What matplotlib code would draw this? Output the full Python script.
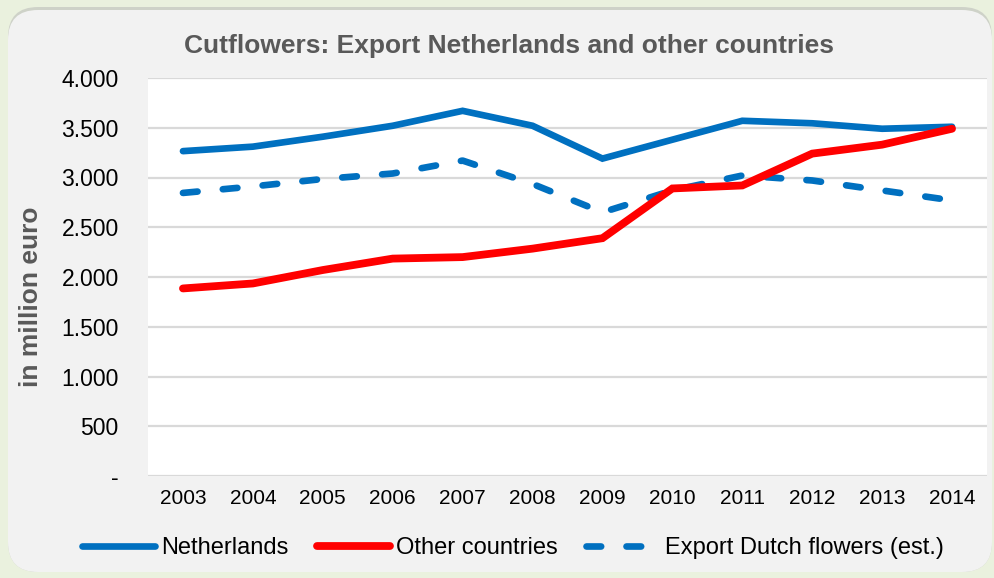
import numpy as np
import matplotlib.pyplot as plt
from matplotlib.patches import FancyBboxPatch

plt.rcParams['font.family'] = ['Liberation Sans', 'DejaVu Sans']

# data (million euro)
years = ["2003", "2004", "2005", "2006", "2007", "2008",
         "2009", "2010", "2011", "2012", "2013", "2014"]
netherlands = [3265, 3310, 3410, 3520, 3670, 3520, 3190, 3380, 3570, 3545, 3490, 3510]
other_countries = [1885, 1935, 2070, 2185, 2200, 2285, 2390, 2890, 2920, 3240, 3330, 3490]
export_dutch_est = [2845, 2910, 2985, 3040, 3170, 2935, 2650, 2870, 3020, 2970, 2870, 2770]
y_ticks = [0, 500, 1000, 1500, 2000, 2500, 3000, 3500, 4000]
y_tick_labels = ["-", "500", "1.000", "1.500", "2.000", "2.500", "3.000", "3.500", "4.000"]

BLUE = "#0070C0"
RED = "#FF0000"
GRID = "#D9D9D9"
PANEL = "#F2F2F2"
OUTER = "#EAF1DE"
TEXT_GRAY = "#595959"

W, H = 995, 578
fig = plt.figure(figsize=(W / 100, H / 100), dpi=100)
fig.patch.set_facecolor(OUTER)

# rounded chart panel with a soft shadow along the top
shadow = FancyBboxPatch((0.08, 0.06), 9.84, 5.65,
                        boxstyle="round,pad=0,rounding_size=0.3",
                        transform=fig.dpi_scale_trans, facecolor="#B4B4B4",
                        edgecolor="none", alpha=0.5, zorder=-3)
panel = FancyBboxPatch((0.08, 0.06), 9.84, 5.62,
                       boxstyle="round,pad=0,rounding_size=0.3",
                       transform=fig.dpi_scale_trans, facecolor=PANEL,
                       edgecolor="none", zorder=-2)
fig.patches.extend([shadow, panel])

left, right, top, bottom = 148, 987, 78, 476
ax = fig.add_axes([left / W, 1 - bottom / H, (right - left) / W, (bottom - top) / H])
ax.set_facecolor("white")

x = np.arange(len(years))
ax.plot(x, export_dutch_est, color=BLUE, lw=4.8, dashes=(2.2, 3.8),
        dash_capstyle="round", solid_capstyle="round", zorder=3,
        label="Export Dutch flowers (est.)")
ax.plot(x, netherlands, color=BLUE, lw=4.8, solid_capstyle="round",
        solid_joinstyle="miter", zorder=4, label="Netherlands")
ax.plot(x, other_countries, color=RED, lw=5.6, solid_capstyle="round",
        solid_joinstyle="miter", zorder=5, label="Other countries")

ax.set_xlim(-0.5, len(years) - 0.5)
ax.set_ylim(0, 4000)
ax.set_xticks(x)
ax.set_xticklabels(years, fontsize=15)
ax.set_yticks(y_ticks)
ax.set_yticklabels(y_tick_labels, fontsize=16.5)
ax.tick_params(axis="x", length=0, pad=9)
ax.tick_params(axis="y", length=0, pad=21)
for s in ax.spines.values():
    s.set_visible(False)
ax.grid(axis="y", color=GRID, lw=1.6, zorder=1)
ax.set_axisbelow(True)

fig.text(509 / W, 1 - 46 / H, "Cutflowers: Export Netherlands and other countries",
         ha="center", va="center", fontsize=19, fontweight="bold", color=TEXT_GRAY)
fig.text(31 / W, 1 - 297 / H, "in million euro", rotation=90,
         ha="center", va="center", fontsize=19, fontweight="bold", color=TEXT_GRAY)

handles, labels = ax.get_legend_handles_labels()
order = [1, 2, 0]
leg = fig.legend([handles[i] for i in order], [labels[i] for i in order],
                 loc="center", bbox_to_anchor=(513 / W, 1 - 548 / H), ncol=3,
                 frameon=False, fontsize=17, handlelength=3.1,
                 handletextpad=0.25, columnspacing=1.2)

fig.savefig("out.png", dpi=100, facecolor=fig.get_facecolor())
